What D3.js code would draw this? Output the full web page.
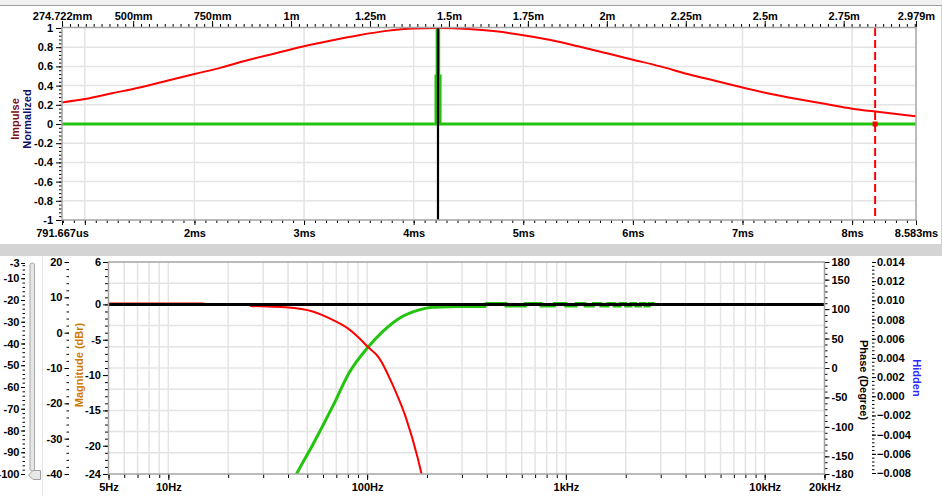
<!DOCTYPE html>
<html><head><meta charset="utf-8">
<script src="https://cdn.jsdelivr.net/npm/d3@7"></script>
<style>
html,body{margin:0;padding:0;background:#fff;overflow:hidden;}
svg text{font-family:"Liberation Sans",Arial,sans-serif;font-weight:bold;font-size:11px;}
</style></head><body>
<svg id="c" width="942" height="496"></svg>
<script>
// ---------- DATA: impulse panel ----------
const impulseTimeMs = [0.791667,1.0,1.25,1.5,1.75,2.0,2.25,2.5,2.75,3.0,3.25,3.5,3.75,4.0,4.222,4.5,4.75,5.0,5.25,5.5,5.75,6.0,6.25,6.5,6.75,7.0,7.25,7.5,7.75,8.0,8.25,8.583];
const impulseRed    = [0.225,0.26,0.32,0.38,0.45,0.52,0.59,0.67,0.74,0.81,0.87,0.925,0.97,0.995,1.0,0.99,0.965,0.925,0.875,0.81,0.74,0.67,0.6,0.52,0.45,0.38,0.315,0.26,0.21,0.16,0.125,0.08];
const impulseGreenT = [0.791667,4.204,4.214,4.228,4.241,8.583];
const impulseGreenV = [0,0.5,0.98,0.5,0,0];
const cursorBlackMs = 4.222;
const cursorRedMs = 8.21;
const timeTickValues = [0.791667,2,3,4,5,6,7,8,8.583];
const timeTickLabels = ["791.667us","2ms","3ms","4ms","5ms","6ms","7ms","8ms","8.583ms"];
const distTickValues = [0.274722,0.5,0.75,1,1.25,1.5,1.75,2,2.25,2.5,2.75,2.979];
const distTickLabels = ["274.722mm","500mm","750mm","1m","1.25m","1.5m","1.75m","2m","2.25m","2.5m","2.75m","2.979m"];
const impulseYTicks = [1,0.8,0.6,0.4,0.2,0,-0.2,-0.4,-0.6,-0.8,-1];

// ---------- DATA: frequency panel ----------
const freqTickValues = [5,10,100,1000,10000,20000];
const freqTickLabels = ["5Hz","10Hz","100Hz","1kHz","10kHz","20kHz"];
const magTicks = [6,0,-5,-10,-15,-20,-24];
const mag2Ticks = [20,10,0,-10,-20,-30,-40];
const sliderTicks = [-3,-10,-20,-30,-40,-50,-60,-70,-80,-90,-100];
const phaseTicks = [180,150,100,50,0,-50,-100,-150,-180];
const hiddenTicks = [0.014,0.012,0.010,0.008,0.006,0.004,0.002,0.000,-0.002,-0.004,-0.006,-0.008];

const lowFreq = [5,15,15.5,25,26.1,38.4,53.2,67.2,80,90,100.7,115,134.5,157,180,188,200];
const lowMag  = [0.12,0.12,0,0,-0.21,-0.4,-1.0,-2.2,-3.4,-4.6,-6.0,-7.6,-11.4,-16.1,-21.8,-24,-26.5];
const highFreq = [38,44.2,53.2,67.2,81.5,100.7,119.7,145.5,183,213,260,315,397];
const highMag  = [-28,-24,-19.9,-14.4,-9.6,-6.1,-3.85,-1.95,-0.78,-0.42,-0.32,-0.3,-0.3];
const rippleFreq = [397,397,500,500,625,625,750,750,875,875,1000,1000,1125,1125,1250,1250,1375,1375,1500,1500,1625,1625,1750,1750,1875,1875,2000,2000,2125,2125,2250,2250,2375,2375,2500,2500,2625,2625,2750,2750,20000];
const rippleMag  = [-0.3,0.12,0.12,-0.22,-0.22,0.12,0.12,-0.22,-0.22,0.12,0.12,-0.22,-0.22,0.12,0.12,-0.22,-0.22,0.12,0.12,-0.22,-0.22,0.12,0.12,-0.22,-0.22,0.12,0.12,-0.22,-0.22,0.12,0.12,-0.22,-0.22,0.12,0.12,-0.22,-0.22,0.12,0.12,0,0];
const flatFreq = [5,20000];
const flatMag  = [0,0];

// ---------- DRAW ----------
const svg = d3.select('#c');
const FONT_COLOR = '#000';
svg.append('rect').attr('width',942).attr('height',496).attr('fill','#fff');
svg.append('rect').attr('x',0).attr('y',0).attr('width',942).attr('height',5).attr('fill','#f0f0f0');
svg.append('line').attr('x1',0).attr('x2',942).attr('y1',5.5).attr('y2',5.5).attr('stroke','#a0a0a0');
svg.append('rect').attr('x',0).attr('y',244).attr('width',942).attr('height',12).attr('fill','#d4d4d4');
svg.append('line').attr('x1',941.5).attr('x2',941.5).attr('y1',6).attr('y2',244).attr('stroke','#d0d0d0');
svg.append('line').attr('x1',42.5).attr('x2',42.5).attr('y1',256).attr('y2',496).attr('stroke','#e4e4e4');

function clean(g){ g.select('.domain').remove(); g.attr('color',FONT_COLOR); }

// ===== top impulse panel =====
const tx = d3.scaleLinear().domain([0.791667,8.583]).range([62,916]);
const dx = d3.scaleLinear().domain([0.274722,2.979]).range([62,916]);
const ty = d3.scaleLinear().domain([-1,1]).range([220,28]);

const tg = svg.append('g');
tg.selectAll('.vg').data([1,2,3,4,5,6,7,8]).join('line')
  .attr('x1',d=>tx(d)).attr('x2',d=>tx(d)).attr('y1',ty(1)).attr('y2',ty(-1))
  .attr('stroke','#e4e4e4').attr('stroke-width',1.5);
tg.selectAll('.hg').data([0.8,0.6,0.4,0.2,0,-0.2,-0.4,-0.6,-0.8]).join('line')
  .attr('x1',tx.range()[0]).attr('x2',tx.range()[1]).attr('y1',d=>ty(d)).attr('y2',d=>ty(d))
  .attr('stroke','#e4e4e4').attr('stroke-width',1.5);

const distMinor = d3.range(0.275,2.979,0.025);
tg.append('g').attr('transform','translate(0,27)')
  .call(d3.axisTop(dx).tickValues(distMinor).tickSize(3).tickFormat('')).call(clean);
const distMap = new Map(distTickValues.map((v,i)=>[v,distTickLabels[i]]));
tg.append('g').attr('transform','translate(0,27)')
  .call(d3.axisTop(dx).tickValues(distTickValues).tickSize(6).tickPadding(1).tickFormat(d=>distMap.get(d))).call(clean);

const timeMinor = d3.range(0.8,8.583,0.1);
tg.append('g').attr('transform','translate(0,220)')
  .call(d3.axisBottom(tx).tickValues(timeMinor).tickSize(3).tickFormat('')).call(clean);
const timeMap = new Map(timeTickValues.map((v,i)=>[v,timeTickLabels[i]]));
tg.append('g').attr('transform','translate(0,220)')
  .call(d3.axisBottom(tx).tickValues([0.791667,1,2,3,4,5,6,7,8,8.583]).tickSize(5).tickPadding(4).tickFormat(d=>timeMap.get(d)||'')).call(clean);

const yMinor = d3.range(-1,1.0001,0.04);
tg.append('g').attr('transform','translate(62,0)')
  .call(d3.axisLeft(ty).tickValues(yMinor).tickSize(3).tickFormat('')).call(clean);
tg.append('g').attr('transform','translate(62,0)')
  .call(d3.axisLeft(ty).tickValues(impulseYTicks).tickSize(6).tickPadding(3).tickFormat(d=>String(+d.toFixed(1)))).call(clean);

svg.append('clipPath').attr('id','clipTop').append('rect').attr('x',62).attr('y',27).attr('width',854).attr('height',194);
const tc = tg.append('g').attr('clip-path','url(#clipTop)');
const redLine = d3.line().x(d=>tx(d[0])).y(d=>ty(d[1])).curve(d3.curveMonotoneX);
tc.append('path').datum(impulseTimeMs.map((t,i)=>[t,impulseRed[i]]))
  .attr('d',redLine).attr('fill','none').attr('stroke','#ff0000').attr('stroke-width',2);
const greenLine = d3.line().x(d=>tx(d[0])).y(d=>ty(d[1])).curve(d3.curveStepAfter);
tc.append('path').datum(impulseGreenT.map((t,i)=>[t,impulseGreenV[i]]))
  .attr('d',greenLine).attr('fill','none').attr('stroke','#22c40e').attr('stroke-width',3);
tc.append('line').attr('x1',tx(cursorBlackMs)).attr('x2',tx(cursorBlackMs)).attr('y1',ty(1)).attr('y2',ty(-1))
  .attr('stroke','#000').attr('stroke-width',2.2);
tc.append('line').attr('x1',tx(cursorRedMs)).attr('x2',tx(cursorRedMs)).attr('y1',ty(1)).attr('y2',ty(-1))
  .attr('stroke','#ff0000').attr('stroke-width',2).attr('stroke-dasharray','8,4');
tc.append('rect').attr('x',tx(cursorRedMs)-2.5).attr('y',ty(0)-2.5).attr('width',5).attr('height',5).attr('fill','#ff0000');
tg.append('rect').attr('x',62).attr('y',27.5).attr('width',854).attr('height',192.5)
  .attr('fill','none').attr('stroke','#a4a4a4').attr('stroke-width',1.5);

svg.append('text').attr('transform','translate(15,119) rotate(-90)').attr('text-anchor','middle')
  .attr('dominant-baseline','central').attr('fill','#7a1010').text('Impulse');
svg.append('text').attr('transform','translate(27,119) rotate(-90)').attr('text-anchor','middle')
  .attr('dominant-baseline','central').attr('fill','#10105e').text('Normalized');

// ===== bottom frequency panel =====
const fx = d3.scaleLog().domain([5,20000]).range([108.5,824.5]);
const my = d3.scaleLinear().domain([-24,6]).range([474,262]);
const my2 = d3.scaleLinear().domain([-40,20]).range([474,262]);
const sy = d3.scaleLinear().domain([-100,-3]).range([474,263]);
const py = d3.scaleLinear().domain([-180,180]).range([474,262]);
const hy = d3.scaleLinear().domain([-0.008,0.014]).range([473,262]);

const bg = svg.append('g');
const freqAll = [];
[1,10,100,1000,10000].forEach(dec=>{ for(let k=1;k<=9;k++){ const f=k*dec; if(f>=5 && f<=20000) freqAll.push(f);} });
freqAll.push(20000);
bg.selectAll('.fvg').data(freqAll.filter(f=>f>5 && f<20000)).join('line')
  .attr('x1',d=>fx(d)).attr('x2',d=>fx(d)).attr('y1',262).attr('y2',474)
  .attr('stroke','#e4e4e4').attr('stroke-width',1.5);
bg.selectAll('.fhg').data([3,0,-3,-6,-9,-12,-15,-18,-21]).join('line')
  .attr('x1',108.5).attr('x2',824.5).attr('y1',d=>my(d)).attr('y2',d=>my(d))
  .attr('stroke','#e4e4e4').attr('stroke-width',1.5);

bg.append('g').attr('transform','translate(0,474)')
  .call(d3.axisBottom(fx).tickValues(freqAll).tickSize(4).tickFormat('')).call(clean);
const freqMap = new Map(freqTickValues.map((v,i)=>[v,freqTickLabels[i]]));
bg.append('g').attr('transform','translate(0,474)')
  .call(d3.axisBottom(fx).tickValues(freqTickValues).tickSize(6).tickPadding(3).tickFormat(d=>freqMap.get(d))).call(clean);

bg.append('g').attr('transform','translate(108,0)')
  .call(d3.axisLeft(my).tickValues(d3.range(-24,6.01,1)).tickSize(3).tickFormat('')).call(clean);
bg.append('g').attr('transform','translate(108,0)')
  .call(d3.axisLeft(my).tickValues(magTicks).tickSize(5).tickPadding(2).tickFormat(d=>String(d))).call(clean);
bg.append('g').attr('transform','translate(69,0)')
  .call(d3.axisLeft(my2).tickValues(d3.range(-40,20.01,2)).tickSize(2.5).tickFormat('')).call(clean);
bg.append('g').attr('transform','translate(69,0)')
  .call(d3.axisLeft(my2).tickValues(mag2Ticks).tickSize(4.5).tickPadding(2).tickFormat(d=>String(d))).call(clean);
bg.append('g').attr('transform','translate(25,0)')
  .call(d3.axisLeft(sy).tickValues(d3.range(-100,-2.99,2).concat([-3])).tickSize(2.5).tickFormat('')).call(clean);
bg.append('g').attr('transform','translate(25,0)')
  .call(d3.axisLeft(sy).tickValues(sliderTicks).tickSize(4).tickPadding(1.5).tickFormat(d=>String(d))).call(clean);
bg.append('g').attr('transform','translate(825,0)')
  .call(d3.axisRight(py).tickValues(d3.range(-180,180.01,10)).tickSize(2.5).tickFormat('')).call(clean);
bg.append('g').attr('transform','translate(825,0)')
  .call(d3.axisRight(py).tickValues(phaseTicks).tickSize(4.5).tickPadding(2).tickFormat(d=>String(d))).call(clean);
bg.append('g').attr('transform','translate(872,0)')
  .call(d3.axisRight(hy).tickValues(d3.range(-0.008,0.01401,0.0004)).tickSize(2.5).tickFormat('')).call(clean);
bg.append('g').attr('transform','translate(872,0)')
  .call(d3.axisRight(hy).tickValues(hiddenTicks).tickSize(4).tickPadding(1).tickFormat(d3.format('.3f'))).call(clean);

bg.append('rect').attr('x',30).attr('y',263).attr('width',4.5).attr('height',208).attr('rx',2)
  .attr('fill','#e6e6e6').attr('stroke','#a8a8a8');
bg.append('polygon').attr('points','28.5,475 33,470.5 40.5,470.5 40.5,479.5 33,479.5')
  .attr('fill','#e8e8e8').attr('stroke','#a0a0a0');

svg.append('clipPath').attr('id','clipBot').append('rect').attr('x',108.5).attr('y',262).attr('width',716).attr('height',212);
const bc = bg.append('g').attr('clip-path','url(#clipBot)');
const fSmooth = d3.line().x(d=>fx(d[0])).y(d=>my(d[1])).curve(d3.curveMonotoneX);
const fLinear = d3.line().x(d=>fx(d[0])).y(d=>my(d[1]));
bc.append('path').datum(highFreq.map((f,i)=>[f,highMag[i]]))
  .attr('d',fSmooth).attr('fill','none').attr('stroke','#22c40e').attr('stroke-width',3);
bc.append('path').datum(rippleFreq.map((f,i)=>[f,rippleMag[i]]))
  .attr('d',fLinear).attr('fill','none').attr('stroke','#22c40e').attr('stroke-width',3);
bc.append('path').datum(lowFreq.map((f,i)=>[f,lowMag[i]]))
  .attr('d',fSmooth).attr('fill','none').attr('stroke','#ff0000').attr('stroke-width',2);
bc.append('path').datum(flatFreq.map((f,i)=>[f,flatMag[i]]))
  .attr('d',fLinear).attr('fill','none').attr('stroke','#000').attr('stroke-width',3);
bg.append('rect').attr('x',108.5).attr('y',262).attr('width',716).attr('height',212)
  .attr('fill','none').attr('stroke','#a4a4a4').attr('stroke-width',1.5);

svg.append('text').attr('transform','translate(79,365) rotate(-90)').attr('text-anchor','middle')
  .attr('dominant-baseline','central').attr('fill','#d07a00').text('Magnitude (dBr)');
svg.append('text').attr('transform','translate(864,380) rotate(90)').attr('text-anchor','middle')
  .attr('dominant-baseline','central').attr('fill','#000').text('Phase (Degree)');
svg.append('text').attr('transform','translate(917,378) rotate(90)').attr('text-anchor','middle')
  .attr('dominant-baseline','central').attr('fill','#2a2aff').text('Hidden');
</script>
</body></html>
